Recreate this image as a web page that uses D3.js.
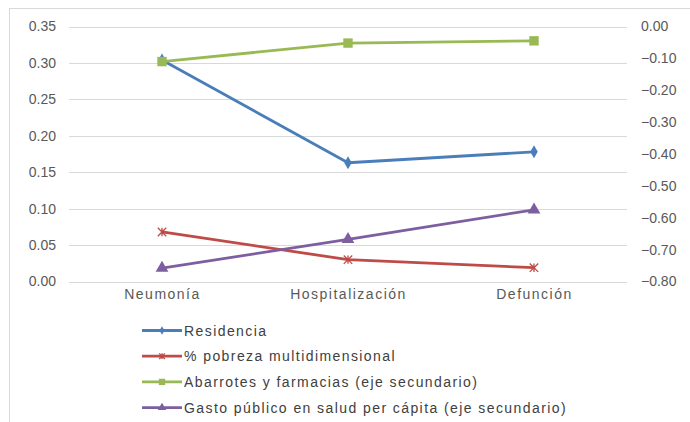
<!DOCTYPE html>
<html>
<head>
<meta charset="utf-8">
<script src="https://cdn.jsdelivr.net/npm/d3@7"></script>
<style>
  body { margin: 0; background: #fff; }
  text { font-family: "Liberation Sans", Arial, sans-serif; }
</style>
</head>
<body>
<div id="chart"></div>
<script>
// categories and series
var categories = ["Neumonía", "Hospitalización", "Defunción"];
var residencia = [0.304, 0.163, 0.178];
var pobreza = [0.068, 0.030, 0.019];
var abarrotes = [-0.11, -0.052, -0.045];   // secondary axis
var gasto = [-0.758, -0.668, -0.575];      // secondary axis
var leftTicks = [0, 0.05, 0.10, 0.15, 0.20, 0.25, 0.30, 0.35];
var rightTicks = [0, -0.1, -0.2, -0.3, -0.4, -0.5, -0.6, -0.7, -0.8];

var series = [
    { name: "Residencia", values: residencia, axis: "left", color: "#4a7ebb", marker: "diamond" },
    { name: "% pobreza multidimensional", values: pobreza, axis: "left", color: "#be4b48", marker: "star" },
    { name: "Abarrotes y farmacias (eje secundario)", values: abarrotes, axis: "right", color: "#98b954", marker: "square" },
    { name: "Gasto público en salud per cápita (eje secundario)", values: gasto, axis: "right", color: "#7d5fa0", marker: "triangle" }
];

var W = 690, H = 422;
var plot = { left: 69, right: 627, top: 26.5, bottom: 281.5 };

var svg = d3.select("#chart").append("svg")
    .attr("width", W)
    .attr("height", H);

// outer chart frame
svg.append("rect")
    .attr("x", 9.5).attr("y", 8.5)
    .attr("width", W + 10).attr("height", H + 10)
    .attr("fill", "none")
    .attr("stroke", "#d9d9d9");

var x = d3.scalePoint().domain(categories).range([plot.left, plot.right]).padding(0.5);
var yL = d3.scaleLinear().domain([0, 0.35]).range([plot.bottom, plot.top]);
var yR = d3.scaleLinear().domain([-0.8, 0]).range([plot.bottom, plot.top]);

// gridlines
svg.append("g").selectAll("line")
    .data(leftTicks)
    .enter().append("line")
    .attr("x1", plot.left).attr("x2", plot.right)
    .attr("y1", function (d) { return Math.round(yL(d)) + 0.5; })
    .attr("y2", function (d) { return Math.round(yL(d)) + 0.5; })
    .attr("stroke", "#d9d9d9")
    .attr("stroke-width", 1);

// left axis
var gl = svg.append("g")
    .attr("transform", "translate(" + (plot.left - 13) + ",0)")
    .call(d3.axisLeft(yL).tickValues(leftTicks).tickFormat(d3.format(".2f")).tickSize(0).tickPadding(0));
gl.select(".domain").remove();
gl.selectAll("text").attr("fill", "#595959").attr("font-size", "14px").attr("font-family", "Liberation Sans, Arial, sans-serif");

// right axis
var gr = svg.append("g")
    .attr("transform", "translate(" + (plot.right + 14) + ",0)")
    .call(d3.axisRight(yR).tickValues(rightTicks).tickFormat(d3.format(".2f")).tickSize(0).tickPadding(0));
gr.select(".domain").remove();
gr.selectAll("text").attr("fill", "#595959").attr("font-size", "14px").attr("font-family", "Liberation Sans, Arial, sans-serif");

// category labels
var gx = svg.append("g")
    .attr("transform", "translate(0," + (plot.bottom + 8) + ")")
    .call(d3.axisBottom(x).tickSize(0).tickPadding(0));
gx.select(".domain").remove();
gx.selectAll("text").attr("fill", "#595959").attr("font-size", "14px")
    .attr("font-family", "Liberation Sans, Arial, sans-serif")
    .attr("letter-spacing", "1.5px");

function drawMarker(g, type, color, cx, cy, s) {
    if (type == "diamond") {
        g.append("path")
            .attr("d", d3.symbol().type(d3.symbolDiamond).size(s * 2.2)())
            .attr("transform", "translate(" + cx + "," + cy + ")")
            .attr("fill", color);
    } else if (type == "square") {
        g.append("path")
            .attr("d", d3.symbol().type(d3.symbolSquare).size(s * 4)())
            .attr("transform", "translate(" + cx + "," + cy + ")")
            .attr("fill", color);
    } else if (type == "triangle") {
        g.append("path")
            .attr("d", d3.symbol().type(d3.symbolTriangle).size(s * 3.2)())
            .attr("transform", "translate(" + cx + "," + cy + ")")
            .attr("fill", color);
    } else if (type == "star") {
        var r = Math.sqrt(s) * 0.9;
        g.append("path")
            .attr("d", "M" + (cx - r) + "," + (cy - r) + "L" + (cx + r) + "," + (cy + r) +
                "M" + (cx - r) + "," + (cy + r) + "L" + (cx + r) + "," + (cy - r) +
                "M" + cx + "," + (cy - r) + "L" + cx + "," + (cy + r))
            .attr("stroke", color)
            .attr("stroke-width", 1.3)
            .attr("fill", "none");
    }
}

// lines
series.forEach(function (s) {
    var y = s.axis == "left" ? yL : yR;
    var line = d3.line()
        .x(function (d, i) { return x(categories[i]); })
        .y(function (d) { return y(d); });
    var g = svg.append("g");
    g.append("path")
        .datum(s.values)
        .attr("d", line)
        .attr("fill", "none")
        .attr("stroke", s.color)
        .attr("stroke-width", 2.8)
        .attr("stroke-linejoin", "round");
    s.values.forEach(function (v, i) {
        drawMarker(g, s.marker, s.color, x(categories[i]), y(v), 22);
    });
});

// legend
var legend = svg.append("g");
series.forEach(function (s, i) {
    var ly = 330.5 + i * 25.7;
    legend.append("line")
        .attr("x1", 142).attr("x2", 182)
        .attr("y1", ly).attr("y2", ly)
        .attr("stroke", s.color)
        .attr("stroke-width", 2.8);
    drawMarker(legend, s.marker, s.color, 162, ly, 10);
    legend.append("text")
        .attr("x", 184)
        .attr("y", ly + 5)
        .attr("font-size", "14px")
        .attr("letter-spacing", "1.42px")
        .attr("fill", "#404040")
        .text(s.name);
});
</script>
</body>
</html>
